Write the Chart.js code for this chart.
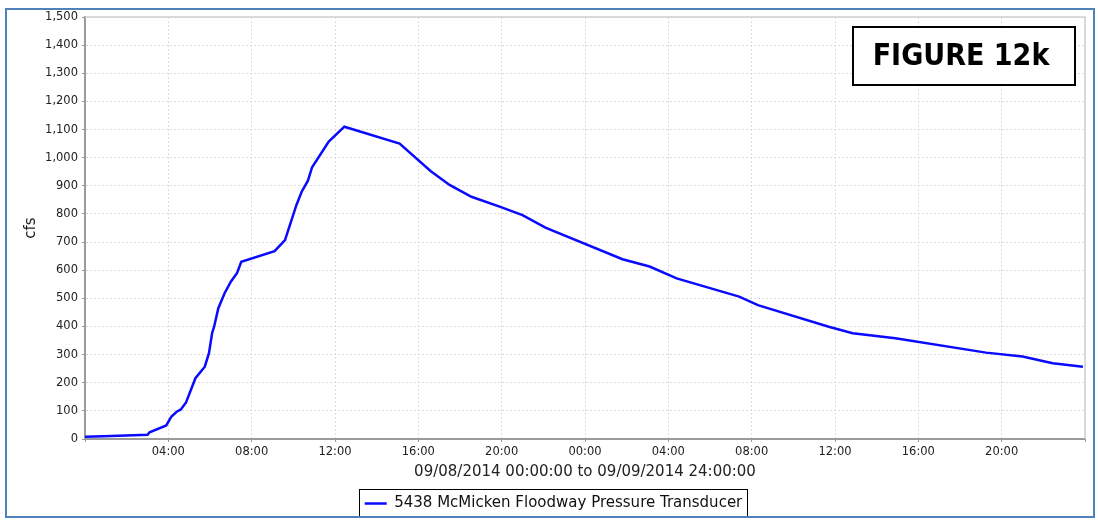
<!DOCTYPE html>
<html>
<head>
<meta charset="utf-8">
<script src="https://cdn.jsdelivr.net/npm/chart.js@4"></script>
<style>
  body { margin: 0; background: #fff; }
  #wrap { width: 1098px; height: 529px; position: relative; }
</style>
</head>
<body>
<div id="wrap"><canvas id="flowChart" width="1098" height="529"></canvas></div>
<script>
// hours since 09/08/2014 00:00
const hours = [0, 0.9, 3.0, 3.1, 3.9, 4.15, 4.4, 4.6, 4.85, 5.3, 5.75, 5.95, 6.1, 6.2, 6.4,
    6.7, 7.0, 7.3, 7.5, 9.1, 9.6, 10.15, 10.4, 10.7, 10.9, 11.7, 12.45, 15.1, 16.6, 17.5,
    18.55, 19.9, 21.0, 22.1, 25.8, 27.1, 28.4, 31.4, 32.3, 35.7, 36.85, 38.9, 43.25, 45.0, 46.45, 47.9];
const cfs = [8, 10, 15, 24, 48, 80, 97, 105, 130, 216, 257, 305, 376, 400, 465,
    518, 559, 590, 630, 668, 707, 832, 879, 918, 966, 1057, 1110, 1050, 952, 903,
    861, 826, 796, 751, 639, 613, 571, 506, 476, 399, 376, 358, 307, 293, 269, 257];
const xTickLabels = ['', '04:00', '08:00', '12:00', '16:00', '20:00', '00:00',
    '04:00', '08:00', '12:00', '16:00', '20:00', ''];
const seriesName = '5438 McMicken Floodway Pressure Transducer';
const figureLabel = 'FIGURE 12k';

const decor = {
    id: 'decor',
    beforeDraw(chart) {
        const c = chart.ctx;
        c.save();
        c.fillStyle = '#fff';
        c.fillRect(0, 0, chart.width, chart.height);
        c.restore();
    },
    afterDraw(chart) {
        const c = chart.ctx;
        const a = chart.chartArea;
        c.save();
        // light plot outline top / right
        c.strokeStyle = '#cfcfcf';
        c.lineWidth = 1.5;
        c.beginPath();
        c.moveTo(a.left, a.top);
        c.lineTo(a.right, a.top);
        c.lineTo(a.right, a.bottom);
        c.stroke();
        // figure label box
        c.fillStyle = '#fff';
        c.fillRect(853, 27, 222, 58);
        c.strokeStyle = '#000';
        c.lineWidth = 2;
        c.strokeRect(853, 27, 222, 58);
        c.fillStyle = '#000';
        c.font = 'bold 30px "DejaVu Sans Condensed", "DejaVu Sans"';
        c.textAlign = 'center';
        c.textBaseline = 'middle';
        c.fillText(figureLabel, 961, 57);
        // legend frame
        const hb = chart.legend.legendHitBoxes[0];
        if (hb) {
            c.strokeStyle = '#000';
            c.lineWidth = 1;
            c.strokeRect(Math.round(hb.left) - 5.5, Math.round(hb.top) - 6.5, Math.round(hb.width) + 10, Math.round(hb.height) + 12);
        }
        // outer blue frame
        c.strokeStyle = '#4f81bd';
        c.lineWidth = 2;
        c.strokeRect(6, 9, 1088, 508);
        c.restore();
    }
};

const ctx = document.getElementById('flowChart').getContext('2d');
const flowChart = new Chart(ctx, {
    type: 'line',
    data: {
        datasets: [{
            label: seriesName,
            data: hours.map((h, i) => ({ x: h, y: cfs[i] })),
            borderColor: '#0a0aff',
            backgroundColor: '#0a0aff',
            borderWidth: 2.5,
            pointRadius: 0,
            tension: 0,
            fill: false
        }]
    },
    options: {
        responsive: false,
        animation: false,
        devicePixelRatio: 1,
        layout: { padding: { top: 17, right: 13, left: 22, bottom: 8 } },
        plugins: {
            tooltip: { enabled: false },
            legend: {
                position: 'bottom',
                labels: {
                    color: '#111',
                    font: { family: 'DejaVu Sans', size: 15 },
                    usePointStyle: true,
                    pointStyle: 'line',
                    pointStyleWidth: 22,
                    padding: 10
                }
            }
        },
        scales: {
            x: {
                type: 'linear',
                min: 0,
                max: 48,
                afterFit: s => { s.height = 47; },
                afterBuildTicks: s => { s.ticks = xTickLabels.map((t, i) => ({ value: i * 4 })); },
                ticks: {
                    autoSkip: false,
                    maxRotation: 0,
                    padding: 3,
                    color: '#222',
                    font: { family: 'DejaVu Sans', size: 11.5 },
                    callback: (v, i) => xTickLabels[i]
                },
                grid: { color: '#dcdcdc', tickColor: '#999', tickLength: 3 },
                border: { color: '#9a9a9a', width: 2, dash: [2, 2] },
                title: {
                    display: true,
                    text: '09/08/2014 00:00:00 to 09/09/2014 24:00:00',
                    color: '#222',
                    font: { family: 'DejaVu Sans', size: 15 },
                    padding: { top: 0, bottom: 5 }
                }
            },
            y: {
                min: 0,
                max: 1500,
                afterFit: s => { s.width = 63; },
                ticks: {
                    stepSize: 100,
                    padding: 4,
                    color: '#222',
                    font: { family: 'DejaVu Sans', size: 11.5 },
                    callback: v => v.toLocaleString('en-US')
                },
                grid: { color: '#dcdcdc', tickColor: '#999', tickLength: 3 },
                border: { color: '#9a9a9a', width: 2, dash: [2, 2] },
                title: {
                    display: true,
                    text: 'cfs',
                    color: '#222',
                    font: { family: 'DejaVu Sans', size: 15 },
                    padding: 0
                }
            }
        }
    },
    plugins: [decor]
});
</script>
</body>
</html>
